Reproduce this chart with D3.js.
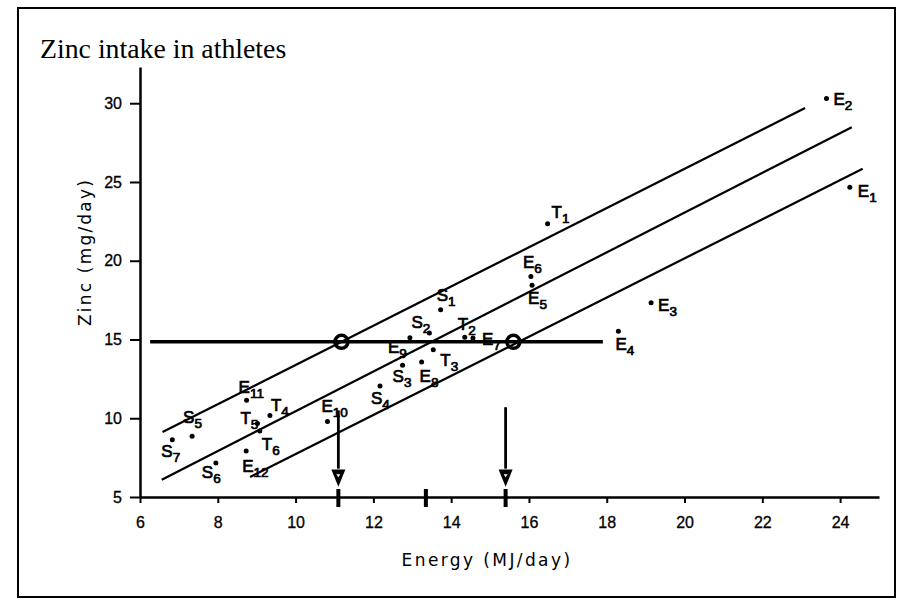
<!DOCTYPE html>
<html>
<head>
<meta charset="utf-8">
<script src="https://cdn.jsdelivr.net/npm/d3@7"></script>
<style>
  body { margin: 0; background: #fff; }
  text { fill: #000; }
</style>
</head>
<body>
<div id="chart"></div>
<script>
// athletes: group letter + number, energy intake (MJ/day), zinc intake (mg/day)
const names  = ["E1","E2","E3","E4","E5","E6","E7","E8","E9","E10","E11","E12",
                "T1","T2","T3","T4","T5","T6",
                "S1","S2","S3","S4","S5","S6","S7"];
const energy = [24.25,23.65,19.14,18.3,16.08,16.05,14.56,13.24,12.94,10.82,8.74,8.73,
                16.48,14.35,13.54,9.34,9.02,9.08,
                13.73,13.44,12.75,12.17,7.34,7.95,6.83];
const zinc   = [24.67,30.3,17.33,15.53,18.45,19.0,15.09,13.57,15.11,9.8,11.14,7.92,
                22.35,15.15,14.35,10.18,9.66,9.19,
                16.89,15.41,13.36,12.05,8.85,7.16,8.64];

// regression line and the two lines either side: [x1, y1, x2, y2]
const fitLines = [
  [6.58, 9.12, 23.1, 29.7],
  [6.56, 6.1, 24.3, 28.48],
  [8.83, 6.27, 24.58, 25.84]
];
const rdaZinc = 14.85;            // recommended intake
const rdaRange = [6.26, 17.9];
const crossings = [11.18, 15.6];  // where outer lines meet the intake line
const arrowX = [11.1, 15.4];
const arrowTop = [10.5, 10.7];
const axisMarks = [11.1, 13.35, 15.4];

const xTicks = [6, 8, 10, 12, 14, 16, 18, 20, 22, 24];
const yTicks = [5, 10, 15, 20, 25, 30];

// label placement relative to each dot (px), baseline of the letter
const labelOffset = {
  E1:[8,10], E2:[7,6], E3:[7,8], E4:[-3,19], E5:[-4,19], E6:[-8,-8], E7:[9,7],
  E8:[-2,20], E9:[-22,15], E10:[-6,-9], E11:[-8,-7], E12:[-4,21],
  T1:[4,-6], T2:[-7,-7], T3:[7,16], T4:[1,-4], T5:[-17,0], T6:[2,19],
  S1:[-4,-9], S2:[-18,-5], S3:[-10,17], S4:[-9,18], S5:[-9,-13], S6:[-14,15], S7:[-11,17]
};

const width = 906, height = 601;
const svg = d3.select("#chart").append("svg")
  .attr("width", width).attr("height", height);

// outer frame
svg.append("rect")
  .attr("x", 18).attr("y", 8).attr("width", 877).attr("height", 589)
  .attr("fill", "none").attr("stroke", "#000").attr("stroke-width", 2);

const x = d3.scaleLinear().domain([6, 25]).range([140, 879]);
const y = d3.scaleLinear().domain([5, 32.3]).range([497, 67]);

svg.append("text")
  .attr("x", 40).attr("y", 58)
  .style("font-family", "'Liberation Serif', 'Times New Roman', serif")
  .style("font-size", "27.8px")
  .text("Zinc intake in athletes");

// axes
const xAxis = d3.axisBottom(x).tickValues(xTicks).tickSize(6).tickPadding(14).tickSizeOuter(0);
const yAxis = d3.axisLeft(y).tickValues(yTicks).tickSize(10).tickPadding(8).tickSizeOuter(0);

const gx = svg.append("g").attr("transform", `translate(0,${y(5)})`).call(xAxis);
const gy = svg.append("g").attr("transform", `translate(${x(6)},0)`).call(yAxis);
[gx, gy].forEach(g => {
  g.select(".domain").attr("stroke-width", 2.5);
  g.selectAll(".tick line").attr("stroke-width", 2);
  g.selectAll(".tick text")
    .style("font-family", "'Liberation Sans', Arial, sans-serif")
    .style("font-size", "16px")
    .style("stroke", "#000").style("stroke-width", 0.3);
});

svg.append("text")
  .attr("x", 487).attr("y", 566)
  .attr("text-anchor", "middle")
  .style("font-family", "'DejaVu Sans', sans-serif")
  .style("font-size", "17px")
  .style("letter-spacing", "2.4px")
  .text("Energy (MJ/day)");

svg.append("text")
  .attr("transform", "translate(91,252) rotate(-90)")
  .attr("text-anchor", "middle")
  .style("font-family", "'DejaVu Sans', sans-serif")
  .style("font-size", "17px")
  .style("letter-spacing", "2.2px")
  .text("Zinc (mg/day)");

// fitted lines
svg.selectAll("line.fit").data(fitLines).join("line")
  .attr("class", "fit")
  .attr("x1", d => x(d[0])).attr("y1", d => y(d[1]))
  .attr("x2", d => x(d[2])).attr("y2", d => y(d[3]))
  .attr("stroke", "#000").attr("stroke-width", 2.2);

// recommended intake line
svg.append("line")
  .attr("x1", x(rdaRange[0])).attr("x2", x(rdaRange[1]))
  .attr("y1", y(rdaZinc)).attr("y2", y(rdaZinc))
  .attr("stroke", "#000").attr("stroke-width", 3.5);

svg.selectAll("circle.cross").data(crossings).join("circle")
  .attr("class", "cross")
  .attr("cx", d => x(d)).attr("cy", y(rdaZinc)).attr("r", 6.5)
  .attr("fill", "none").attr("stroke", "#000").attr("stroke-width", 3.5);

// arrows down to the energy axis
const arrows = svg.selectAll("g.arrow").data(arrowX).join("g").attr("class", "arrow");
arrows.append("line")
  .attr("x1", d => x(d)).attr("x2", d => x(d))
  .attr("y1", (d, i) => y(arrowTop[i])).attr("y2", y(6.8))
  .attr("stroke", "#000").attr("stroke-width", 2.8);
arrows.append("path")
  .attr("d", d => {
    const cx = x(d), t = y(6.75), b = y(5.65);
    return `M${cx - 7},${t} L${cx + 7},${t} L${cx},${b} Z`;
  })
  .attr("fill", "#000");
arrows.append("path")
  .attr("d", d => {
    const cx = x(d), t = y(6.45);
    return `M${cx - 2},${t} L${cx + 2},${t} L${cx},${t + 3} Z`;
  })
  .attr("fill", "#fff");

svg.selectAll("line.mark").data(axisMarks).join("line")
  .attr("class", "mark")
  .attr("x1", d => x(d)).attr("x2", d => x(d))
  .attr("y1", y(5) - 8).attr("y2", y(5) + 10)
  .attr("stroke", "#000").attr("stroke-width", 4);

// athletes
const pts = names.map((n, i) => ({ name: n, e: energy[i], z: zinc[i] }));

svg.selectAll("circle.pt").data(pts).join("circle")
  .attr("class", "pt")
  .attr("cx", d => x(d.e)).attr("cy", d => y(d.z)).attr("r", 2.5)
  .attr("fill", "#000");

const labels = svg.selectAll("text.lab").data(pts).join("text")
  .attr("class", "lab")
  .attr("x", d => x(d.e) + labelOffset[d.name][0])
  .attr("y", d => y(d.z) + labelOffset[d.name][1])
  .style("font-family", "'Liberation Sans', Arial, sans-serif")
  .style("font-size", "17px")
  .style("stroke", "#000").style("stroke-width", 0.7);
labels.append("tspan").text(d => d.name[0]);
labels.append("tspan")
  .attr("dy", 5)
  .style("font-size", "13.5px")
  .text(d => d.name.slice(1));
</script>
</body>
</html>
